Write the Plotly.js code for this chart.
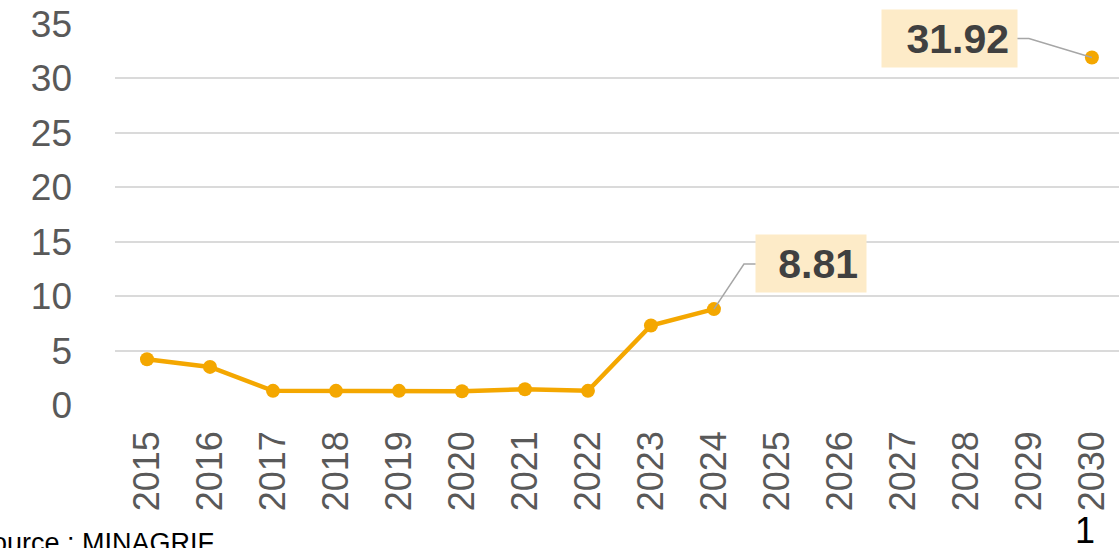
<!DOCTYPE html>
<html>
<head>
<meta charset="utf-8">
<script src="https://cdn.plot.ly/plotly-3.0.1.min.js"></script>
<style>
  html, body { margin: 0; padding: 0; background: #fff; overflow: hidden; }
  #chart { width: 1119px; height: 548px; }
</style>
</head>
<body>
<div id="chart"></div>
<script>
// ---- Data ----
const years = [2015, 2016, 2017, 2018, 2019, 2020, 2021, 2022, 2023, 2024, 2025, 2026, 2027, 2028, 2029, 2030];
const yearLabels = ["2015", "2016", "2017", "2018", "2019", "2020", "2021", "2022", "2023", "2024", "2025", "2026", "2027", "2028", "2029", "2030"];
const values = [4.2, 3.5, 1.3, 1.3, 1.3, 1.27, 1.44, 1.3, 7.3, 8.81, null, null, null, null, null, 31.92];
const yTicks = [0, 5, 10, 15, 20, 25, 30, 35];
const sourceText = "Source : MINAGRIF";
const pageNumber = "1";

const lineColor = "#F4A700";
const labelBg = "#FDEBC8";
const labelColor = "#404040";
const leaderColor = "#A6A6A6";
const fontFamily = "'Liberation Sans', Arial, sans-serif";

const idx2024 = years.indexOf(2024);
const idx2030 = years.indexOf(2030);

const trace = {
  x: years,
  y: values,
  type: "scatter",
  mode: "lines+markers",
  connectgaps: false,
  line: { color: lineColor, width: 4.5 },
  marker: { color: lineColor, size: 14 },
  hoverinfo: "x+y"
};

const layout = {
  width: 1119,
  height: 548,
  margin: { l: 115, r: 0, t: 24, b: 143, pad: 0 },
  paper_bgcolor: "#ffffff",
  plot_bgcolor: "#ffffff",
  showlegend: false,
  font: { family: fontFamily, color: "#595959" },
  xaxis: {
    type: "linear",
    range: [2014.492, 2030.43],
    tickmode: "array",
    tickvals: years,
    ticktext: yearLabels,
    tickangle: -90,
    tickfont: { size: 36, color: "#595959", family: fontFamily },
    showgrid: false,
    zeroline: false,
    showline: false,
    ticks: "",
    ticklabelstandoff: 18,
    fixedrange: true
  },
  yaxis: {
    range: [0, 35],
    tickmode: "array",
    tickvals: yTicks,
    ticktext: yTicks.map(String),
    tickfont: { size: 37, color: "#595959", family: fontFamily },
    showgrid: true,
    gridcolor: "#DADADA",
    gridwidth: 2,
    zeroline: false,
    showline: false,
    ticks: "",
    ticklabelstandoff: 42,
    fixedrange: true
  },
  shapes: [
    {
      type: "path",
      xref: "x", yref: "y",
      xsizemode: "pixel", ysizemode: "pixel",
      xanchor: years[idx2024], yanchor: values[idx2024],
      path: "M0,0 L30,45 L42,45",
      line: { color: leaderColor, width: 1.5 }
    },
    {
      type: "path",
      xref: "x", yref: "y",
      xsizemode: "pixel", ysizemode: "pixel",
      xanchor: years[idx2030], yanchor: values[idx2030],
      path: "M0,0 L-63,19 L-75,19",
      line: { color: leaderColor, width: 1.5 }
    }
  ],
  annotations: [
    {
      xref: "x", yref: "y",
      x: years[idx2024], y: values[idx2024],
      text: "<b>" + values[idx2024].toFixed(2) + "</b>",
      showarrow: false,
      xshift: 97, yshift: 45.5,
      xanchor: "center", yanchor: "middle",
      width: 94, height: 41, borderpad: 8,
      align: "right", valign: "middle",
      bgcolor: labelBg,
      font: { size: 41, color: labelColor, family: fontFamily }
    },
    {
      xref: "x", yref: "y",
      x: years[idx2030], y: values[idx2030],
      text: "<b>" + values[idx2030].toFixed(2) + "</b>",
      showarrow: false,
      xshift: -142.5, yshift: 19.5,
      xanchor: "center", yanchor: "middle",
      width: 119, height: 41, borderpad: 8,
      align: "right", valign: "middle",
      bgcolor: labelBg,
      font: { size: 41, color: labelColor, family: fontFamily }
    },
    {
      xref: "paper", yref: "paper",
      x: -0.1425, y: -0.318,
      xanchor: "left", yanchor: "top",
      text: sourceText,
      showarrow: false,
      font: { size: 27, color: "#000000", family: fontFamily }
    },
    {
      xref: "paper", yref: "paper",
      x: 0.966, y: -0.27,
      xanchor: "center", yanchor: "top",
      text: pageNumber,
      showarrow: false,
      font: { size: 36, color: "#000000", family: fontFamily }
    }
  ]
};

Plotly.newPlot("chart", [trace], layout, { displayModeBar: false, staticPlot: true });
</script>
</body>
</html>
